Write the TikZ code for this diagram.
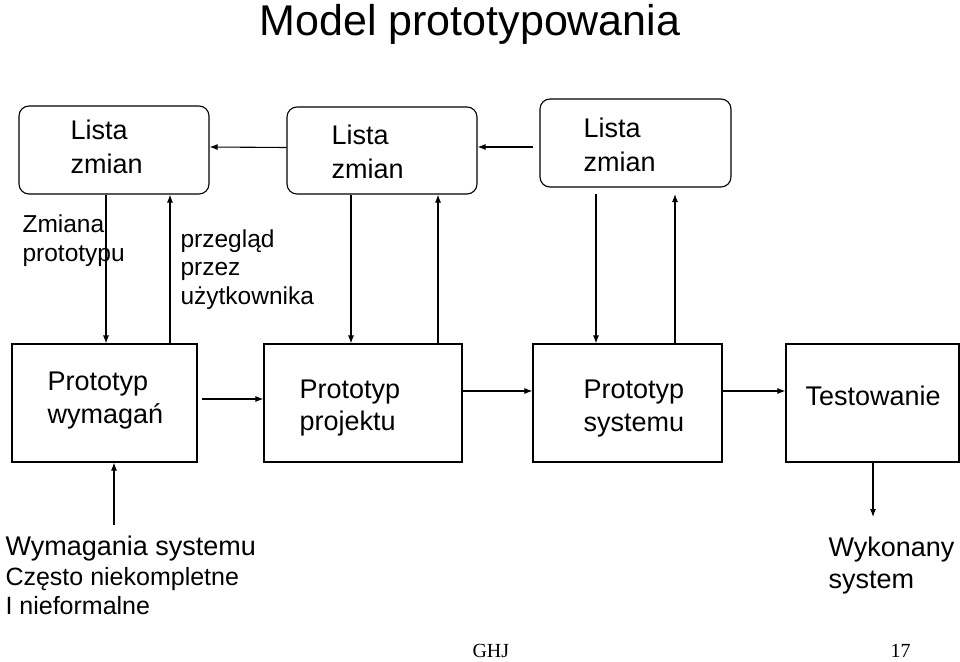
\documentclass[tikz,border=0pt]{standalone}
\usepackage{fontspec}
\setmainfont{Liberation Sans}
\newfontfamily\stopka{Liberation Serif}
\usetikzlibrary{arrows.meta,calc}
\tikzset{>={Latex[length=8pt,width=6pt]}}
\tikzstyle{lista}=[
	 draw, rounded corners=10pt,
	 inner sep=0pt
    ]
\tikzstyle{proto}=[
	 draw, inner sep=0pt,
	 minimum height=118pt
    ]
\tikzstyle{opis}=[
	 anchor=base west, align=left, inner sep=0pt,
	 font=\fontsize{27}{34}\selectfont
    ]
\tikzstyle{maly}=[opis, font=\fontsize{24.5}{29}\selectfont]
\newcommand{\pDn}[3]{\draw[->] let \p1 = (#1.south), \p2 = (#2.north) in (\x1+#3,\y1) -- (\x1+#3,\y2)}
\newcommand{\pUp}[3]{\draw[<-] let \p1 = (#1.south), \p2 = (#2.north) in (\x1+#3,\y1) -- (\x1+#3,\y2)}

\begin{document}
\begin{tikzpicture}[x=1pt,y=-1pt,line width=1.1pt]
\useasboundingbox (0,0) rectangle (960,661);

\node[anchor=base,font=\fontsize{43}{50}\selectfont] (tytul) at (470,36) {Model prototypowania};

\node[lista,minimum width=190pt,minimum height=88pt] (L1) at (114,150) {};
\node[lista,minimum width=190pt,minimum height=87pt] (L2) at (382,150.5) {};
\node[lista,minimum width=191pt,minimum height=88pt,outer sep=7pt] (L3) at (635.5,143) {};

% base = ostatnia linia
\node[opis] (L1t) at (70,173) {Lista\\zmian};
\node[opis] (L2t) at (331,178) {Lista\\zmian};
\node[opis] (L3t) at (583,171) {Lista\\zmian};

\node[proto,minimum width=185pt] (P1) at (104.5,403) {};
\node[proto,minimum width=198pt] (P2) at (363,403) {};
\node[proto,minimum width=189pt] (P3) at (627.5,403) {};
\node[proto,minimum width=173pt] (P4) at (872.5,403) {};

\node[opis,font=\fontsize{27}{33}\selectfont] (P1t) at (47,423) {Prototyp\\wymagań};
\node[opis,font=\fontsize{27}{32}\selectfont] (P2t) at (299,430) {Prototyp\\projektu};
\node[opis,font=\fontsize{27}{33}\selectfont] (P3t) at (583,431) {Prototyp\\systemu};
\node[opis] (P4t) at (805,405) {Testowanie};

\node[maly] (zmiana) at (22,261) {Zmiana\\prototypu};
\node[maly,font=\fontsize{24.5}{28.5}\selectfont] (przeglad) at (180,304) {przegląd\\przez\\użytkownika};

\coordinate (wej) at (114,525);
\coordinate (wyj) at (873,517);

\node[opis] (wym) at (5,555) {Wymagania systemu};
\node[opis,font=\fontsize{25}{29}\selectfont] (wymopis) at (5,614) {Często niekompletne\\I nieformalne};
\node[opis,font=\fontsize{27}{32}\selectfont] (wyk) at (828,588) {Wykonany\\system};

\node[anchor=base west,inner sep=0pt,font=\stopka\fontsize{20}{24}\selectfont] (autor) at (472,657) {GHJ};
\node[anchor=base west,inner sep=0pt,font=\stopka\fontsize{20}{24}\selectfont] (strona) at (890,657) {17};

\draw[->] ([yshift=3pt]L2.west) -- ([yshift=3pt]L1.east);
\draw[->] let \p1 = (L3.west), \p2 = ([yshift=3.5pt]L2.east) in (\x1,\y2) -- (\p2);

\pDn{L1}{P1}{-8pt};
\pUp{L1}{P1}{56pt};
\pDn{L2}{P2}{-31pt};
\pUp{L2}{P2}{56pt};
\pDn{L3}{P3}{-39.5pt};
\pUp{L3}{P3}{39.5pt};

\draw[->,shorten <=4pt] ([yshift=4pt]P1.east) -- ([yshift=4pt]P2.west);
\draw[->] ([yshift=12pt]P2.east) -- ([yshift=12pt]P3.west);
\draw[->] ([yshift=12pt]P3.east) -- ([yshift=12pt]P4.west);

\draw[->] (wej) -- (wej |- P1.south);
\draw[->] (P4.south -| wyj) -- (wyj);

\end{tikzpicture}
\end{document}
